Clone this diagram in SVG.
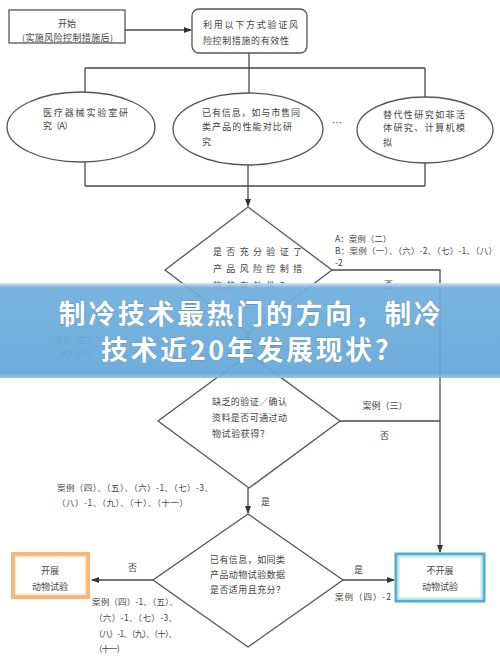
<svg xmlns="http://www.w3.org/2000/svg" width="500" height="666" viewBox="0 0 500 666">
<style>
text{font-family:"Noto Sans CJK SC","Noto Sans",sans-serif;fill:#444;font-size:9px}
.sm{font-size:8.5px}
.ln{fill:none;stroke:#4a4a4a;stroke-width:1.3}
.shp{fill:#fff;stroke:#555;stroke-width:1.3}
.mid{text-anchor:middle}
.ban{font-size:27px;font-weight:bold;fill:#fff;text-anchor:middle;letter-spacing:2.6px;stroke:#4d86b5;stroke-width:0.6;paint-order:stroke}
</style>
<defs>
<marker id="ar" markerWidth="8" markerHeight="6" refX="7" refY="3" orient="auto" markerUnits="userSpaceOnUse">
<path d="M0,0 L8,3 L0,6 z" fill="#333"/>
</marker>
<linearGradient id="bg" x1="0" y1="0" x2="0" y2="1">
<stop offset="0" stop-color="#cfe4f4"/>
<stop offset="0.05" stop-color="#6eaedc"/>
<stop offset="0.95" stop-color="#64a7d8"/>
<stop offset="1" stop-color="#8fc0e4"/>
</linearGradient>
</defs>
<rect width="500" height="666" fill="#fff"/>
<g id="connectors">
<path class="ln" d="M125,30 H191" marker-end="url(#ar)"/>
<path class="ln" d="M249,53 V68 M85,68 H425 M85,68 V92 M249,68 V93 M425,68 V97"/>
<path class="ln" d="M85,162 V186 M248,165 V186 M425,163 V186 M85,186 H425"/>
<path class="ln" d="M248,186 V206" marker-end="url(#ar)"/>
<path class="ln" d="M332,270 H440 V552" marker-end="url(#ar)"/>
<path class="ln" d="M248,333 V353" marker-end="url(#ar)"/>
<path class="ln" d="M340,421 H440"/>
<path class="ln" d="M248,488 V513" marker-end="url(#ar)"/>
<path class="ln" d="M343,580 H394" marker-end="url(#ar)"/>
<path class="ln" d="M153,580 H92" marker-end="url(#ar)"/>
</g>
<g id="start">
<rect class="shp" x="9" y="10" width="116" height="33"/>
<text class="mid" x="67" y="27">开始</text>
<text x="22" y="41" textLength="91" lengthAdjust="spacing">(实施风险控制措施后)</text>
</g>
<g id="verify">
<rect class="shp" x="192" y="9" width="115" height="44" rx="7"/>
<text x="203" y="28" textLength="95" lengthAdjust="spacing">利用以下方式验证风</text>
<text x="203" y="44" textLength="86" lengthAdjust="spacing">险控制措施的有效性</text>
</g>
<g id="e1">
<ellipse class="shp" cx="81" cy="127" rx="74" ry="35"/>
<text x="43" y="116" textLength="85" lengthAdjust="spacing">医疗器械实验室研</text>
<text x="43" y="129" textLength="30" lengthAdjust="spacing">究（A）</text>
</g>
<g id="e2">
<ellipse class="shp" cx="248" cy="129" rx="75" ry="36"/>
<text x="202" y="116" textLength="98" lengthAdjust="spacing">已有信息，如与市售同</text>
<text x="202" y="130" textLength="90" lengthAdjust="spacing">类产品的性能对比研</text>
<text x="202" y="145">究</text>
</g>
<text x="332" y="127" style="font-size:10px">…</text>
<g id="e3">
<ellipse class="shp" cx="425" cy="130" rx="68" ry="33"/>
<text x="383" y="118" textLength="82" lengthAdjust="spacing">替代性研究如非活</text>
<text x="383" y="131" textLength="82" lengthAdjust="spacing">体研究、计算机模</text>
<text x="383" y="146">拟</text>
</g>
<g id="d1">
<polygon class="shp" points="248,207 332,270 248,333 165,270"/>
<text x="213" y="255" textLength="89" lengthAdjust="spacing">是否充分验证了</text>
<text x="213" y="272" textLength="89" lengthAdjust="spacing">产品风险控制措</text>
<text x="213" y="289" textLength="76" lengthAdjust="spacing">施的有效性？</text>
</g>
<g id="labels1">
<text class="sm" x="335" y="242">A：案例（二）</text>
<text class="sm" x="335" y="253.5" textLength="162" lengthAdjust="spacing">B：案例（一）、（六）-2、（七）-1、（八）</text>
<text class="sm" x="335" y="265.5">-2</text>
<text x="384" y="288">否</text>
<text class="sm" x="55" y="343" textLength="44" lengthAdjust="spacing">案例（三）、</text>
<text class="sm" x="55" y="356" textLength="40" lengthAdjust="spacing">（七）（八）</text>
</g>
<g id="d2">
<polygon class="shp" points="249,354 340,421 249,488 158,421"/>
<text x="212" y="405" textLength="75" lengthAdjust="spacing">缺乏的验证／确认</text>
<text x="212" y="421" textLength="75" lengthAdjust="spacing">资料是否可通过动</text>
<text x="212" y="437" textLength="57" lengthAdjust="spacing">物试验获得？</text>
</g>
<g id="labels2">
<text class="mid" x="385" y="409">案例（三）</text>
<text x="380" y="439">否</text>
<text class="sm" x="57" y="491" textLength="156" lengthAdjust="spacing">案例（四）、（五）、（六）-1、（七）-3、</text>
<text class="sm" x="57" y="506" textLength="131" lengthAdjust="spacing">（八）-1、（九）、（十）、（十一）</text>
<text x="261" y="505">是</text>
</g>
<g id="d3">
<polygon class="shp" points="248,514 343,580 248,647 153,580"/>
<text x="210" y="563" textLength="75" lengthAdjust="spacing">已有信息，如同类</text>
<text x="210" y="578" textLength="75" lengthAdjust="spacing">产品动物试验数据</text>
<text x="210" y="593" textLength="75" lengthAdjust="spacing">是否适用且充分？</text>
</g>
<g id="labels3">
<text x="354" y="573">是</text>
<text class="sm" x="335" y="600" textLength="56" lengthAdjust="spacing">案例（四）-2</text>
<text x="128" y="571">否</text>
<text class="sm" x="92" y="605" textLength="86" lengthAdjust="spacing">案例（四）-1、（五）、</text>
<text class="sm" x="94" y="621" textLength="83" lengthAdjust="spacing">（六）-1、（七）-3、</text>
<text class="sm" x="94" y="637" textLength="83" lengthAdjust="spacing">（八）-1、（九）、（十）、</text>
<text class="sm" x="94" y="652" textLength="31" lengthAdjust="spacing">（十一）</text>
</g>
<g id="noanimal">
<rect x="396" y="554" width="88" height="47" fill="#fff" stroke="#4fb0c8" stroke-width="3"/>
<rect x="398.5" y="556.5" width="83" height="42" fill="none" stroke="#bfe6f6" stroke-width="2"/>
<text class="mid" x="440" y="574">不开展</text>
<text class="mid" x="440" y="590">动物试验</text>
</g>
<g id="animal">
<rect x="13" y="554" width="75" height="43" fill="#fff" stroke="#f2b77a" stroke-width="4"/>
<rect x="15.5" y="556.5" width="70" height="38" fill="none" stroke="#fbe2c6" stroke-width="1.5"/>
<text class="mid" x="50" y="574">开展</text>
<text class="mid" x="50" y="590">动物试验</text>
</g>
<g id="banner">
<rect x="0" y="283" width="500" height="95" fill="url(#bg)" opacity="0.93"/>
<text class="ban" x="251" y="324">制冷技术最热门的方向，制冷</text>
<text class="ban" x="246" y="360">技术近20年发展现状?</text>
</g>
</svg>
